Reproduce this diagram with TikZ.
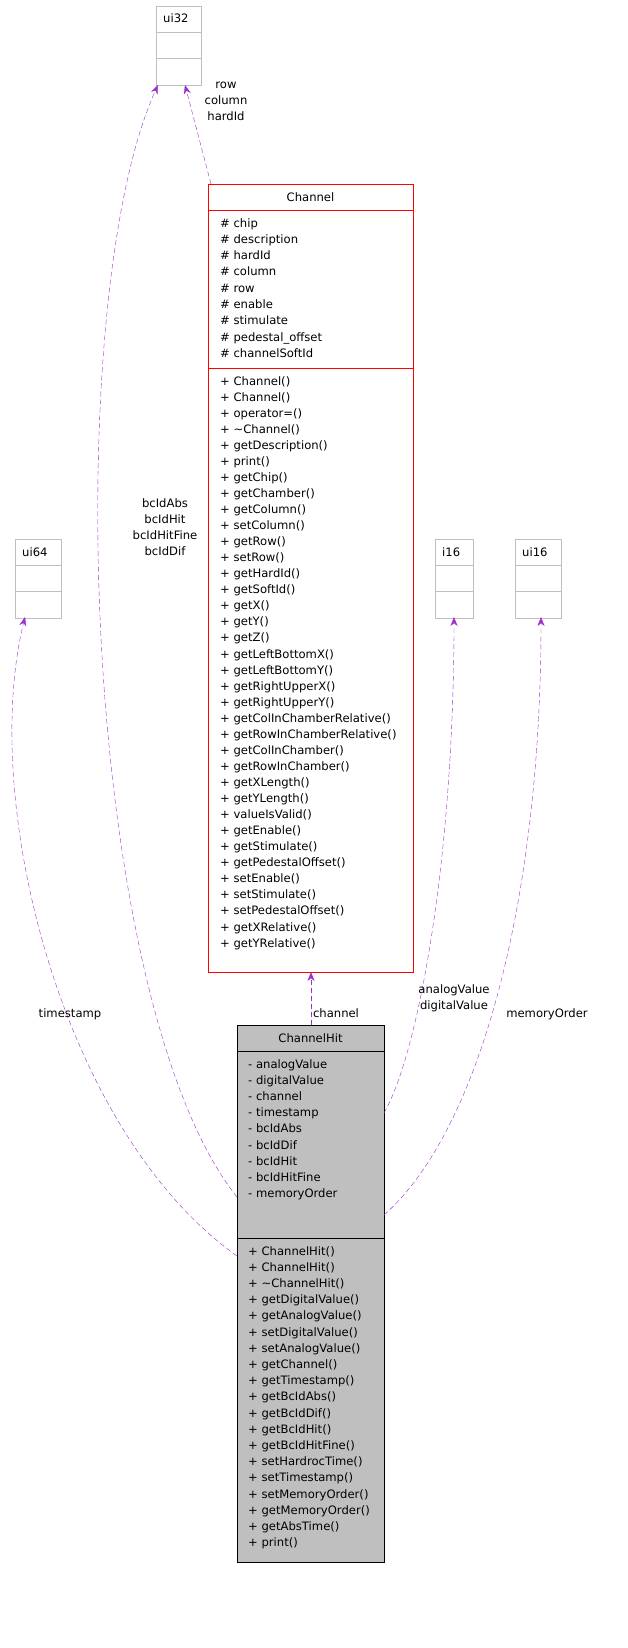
\documentclass[tikz,border=0pt]{standalone}
\usepackage{fontspec}
\setmainfont{DejaVu Sans}
\usetikzlibrary{arrows.meta}
\definecolor{edge}{HTML}{9A32CD}
\definecolor{gb}{HTML}{BFBFBF}
\begin{document}
\begin{tikzpicture}[x=1pt,y=-1pt,
  txt/.style={font=\fontsize{11.6}{16}\selectfont,inner sep=0pt},
  lt/.style={txt,anchor=base west},
  ct/.style={txt,anchor=base,align=center},
  rel/.style={draw=edge,dashed,dash pattern=on 5pt off 3pt,-{Stealth[length=9pt,width=7pt,fill=edge]}}]
% simple grey boxes
\foreach \n/\tx/\xa/\xb/\ya in {ui32/ui32/156/201/6, ui64/ui64/15/61/539, i16/i16/435/473/539, ui16/ui16/515/561/539}{
  \draw[gb] (\xa,\ya) rectangle (\xb,\ya+79);
  \draw[gb] (\xa,\ya+26) -- (\xb,\ya+26);
  \draw[gb] (\xa,\ya+52) -- (\xb,\ya+52);
  \node[lt] (\n) at (\xa+7,\ya+17) {\tx};
}
\coordinate (ui32-b) at (185,85);
\coordinate (ui32-b2) at (158,85);
\coordinate (ui64-b) at (25,617);
\coordinate (i16-b) at (454,617);
\coordinate (ui16-b) at (541,617);
% Channel
\draw[red] (208,184) rectangle (413,972);
\draw[red] (208,210) -- (413,210);
\draw[red] (208,368) -- (413,368);
\node[ct] (chT) at (310.5,201) {Channel};
\foreach [count=\i from 0] \s in {\# chip,\# description,\# hardId,\# column,\# row,\# enable,\# stimulate,\# pedestal\_offset,\# channelSoftId}
  \node[lt] (cha\i) at (220,227+16.3*\i) {\s};
\foreach [count=\i from 0] \s in {+ Channel(),+ Channel(),+ operator=(),+ \textasciitilde Channel(),+ getDescription(),+ print(),+ getChip(),+ getChamber(),+ getColumn(),+ setColumn(),+ getRow(),+ setRow(),+ getHardId(),+ getSoftId(),+ getX(),+ getY(),+ getZ(),+ getLeftBottomX(),+ getLeftBottomY(),+ getRightUpperX(),+ getRightUpperY(),+ getColInChamberRelative(),+ getRowInChamberRelative(),+ getColInChamber(),+ getRowInChamber(),+ getXLength(),+ getYLength(),+ valueIsValid(),+ getEnable(),+ getStimulate(),+ getPedestalOffset(),+ setEnable(),+ setStimulate(),+ setPedestalOffset(),+ getXRelative(),+ getYRelative()}
  \node[lt] (chm\i) at (220,385+16.06*\i) {\s};
% ChannelHit
\draw[fill=gb] (237,1025) rectangle (384,1562);
\draw (237,1051) -- (384,1051);
\draw (237,1238) -- (384,1238);
\node[ct] (hT) at (310.5,1042) {ChannelHit};
\foreach [count=\i from 0] \s in {- analogValue,- digitalValue,- channel,- timestamp,- bcIdAbs,- bcIdDif,- bcIdHit,- bcIdHitFine,- memoryOrder}
  \node[lt] (ha\i) at (248,1068+16.2*\i) {\s};
\foreach [count=\i from 0] \s in {+ ChannelHit(),+ ChannelHit(),+ \textasciitilde ChannelHit(),+ getDigitalValue(),+ getAnalogValue(),+ setDigitalValue(),+ setAnalogValue(),+ getChannel(),+ getTimestamp(),+ getBcIdAbs(),+ getBcIdDif(),+ getBcIdHit(),+ getBcIdHitFine(),+ setHardrocTime(),+ setTimestamp(),+ setMemoryOrder(),+ getMemoryOrder(),+ getAbsTime(),+ print()}
  \node[lt] (hm\i) at (248,1255+16.2*\i) {\s};
\coordinate (chTop) at (211,184);
\coordinate (chBot) at (311,972);
\coordinate (hTop) at (311,1025);
\coordinate (hA) at (237,1197);
\coordinate (hB) at (237,1256);
\coordinate (hC) at (384,1113);
\coordinate (hD) at (384,1215);
% edges
\draw[rel] (chTop) -- (ui32-b);
\draw[rel] (hA) .. controls (80,1000) and (60,300) .. (ui32-b2);
\draw[rel] (hB) .. controls (60,1130) and (-20,800) .. (ui64-b);
\draw[rel] (hTop) -- (chBot);
\draw[rel] (hC) .. controls (420,1050) and (454,850) .. (i16-b);
\draw[rel] (hD) .. controls (480,1130) and (541,900) .. (ui16-b);
% labels
\node[ct] (l1) at (226,121) {row\\column\\hardId};
\node[ct] (l2) at (165,555) {bcIdAbs\\bcIdHit\\bcIdHitFine\\bcIdDif};
\node[ct] (l3) at (70,1017) {timestamp};
\node[ct] (l4) at (336,1017) {channel};
\node[ct] (l5) at (454,1009) {analogValue\\digitalValue};
\node[ct] (l6) at (547,1017) {memoryOrder};
\pgfresetboundingbox
\path[use as bounding box] (0,0) rectangle (627,1648);
\end{tikzpicture}
\end{document}
